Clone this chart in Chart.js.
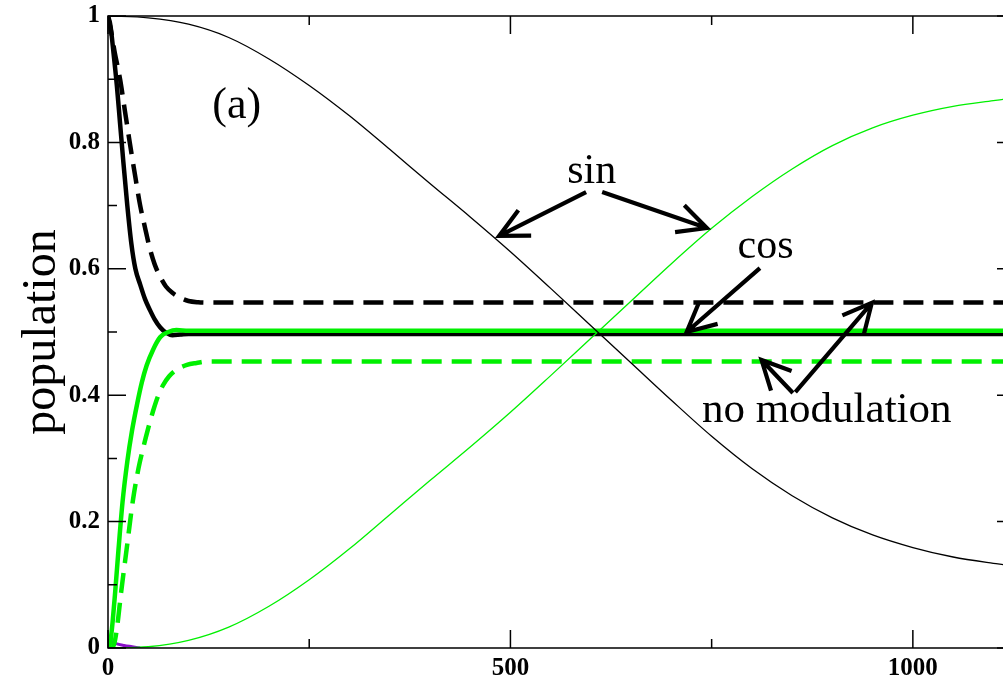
<!DOCTYPE html>
<html>
<head>
<meta charset="utf-8">
<title>population</title>
<script src="https://cdn.jsdelivr.net/npm/chart.js@4.4.1/dist/chart.umd.min.js"></script>
<style>
  html, body { margin: 0; padding: 0; background: #fff; }
  #chart { display: block; }
</style>
</head>
<body>
<canvas id="chart" width="1003" height="680"></canvas>
<script>
// time axis samples for the slow (sin modulated) populations
const tSin = [0, 50, 100, 150, 200, 250, 300, 350, 400, 450, 500, 550, 600, 650, 700, 750, 800, 850, 900, 950, 1000, 1050, 1100, 1112];
const sinUpper = [1.0, 0.997, 0.987, 0.966, 0.932, 0.89, 0.842, 0.789, 0.735, 0.682, 0.627, 0.569, 0.51, 0.451, 0.392, 0.335, 0.284, 0.241, 0.206, 0.179, 0.159, 0.144, 0.134, 0.132];
const sinLower = [0.0, 0.002, 0.012, 0.033, 0.066, 0.108, 0.157, 0.211, 0.265, 0.318, 0.373, 0.431, 0.49, 0.549, 0.608, 0.664, 0.714, 0.758, 0.795, 0.823, 0.843, 0.857, 0.866, 0.868];

// cos modulated populations (fast relaxation to 1/2)
const tCosUpper = [0, 3, 7, 11, 15, 19, 24, 29, 34, 40, 46, 52, 58, 65, 72, 80, 90, 100, 1112];
const cosUpper = [1.0, 0.985, 0.94, 0.89, 0.83, 0.77, 0.7, 0.64, 0.6, 0.575, 0.552, 0.535, 0.52, 0.507, 0.499, 0.495, 0.496, 0.497, 0.497];
const tCosLower = [0, 3, 6, 9, 13, 18, 24, 30, 36, 42, 48, 56, 65, 75, 85, 100, 1112];
const cosLower = [0.0, 0.01, 0.045, 0.09, 0.155, 0.23, 0.295, 0.345, 0.385, 0.42, 0.447, 0.472, 0.492, 0.5, 0.503, 0.502, 0.502];

// no modulation
const tFreeUpper = [0, 4, 8, 15, 21, 27, 34, 40, 46, 52, 58, 65, 72, 80, 90, 100, 112, 125, 1112];
const freeUpper = [1.0, 0.975, 0.945, 0.9, 0.85, 0.8, 0.745, 0.7, 0.665, 0.632, 0.607, 0.587, 0.572, 0.562, 0.554, 0.549, 0.547, 0.5465, 0.5465];
const tFreeLower = [0, 4, 8, 12, 16, 23, 31, 38, 44, 50, 56, 62, 68, 76, 86, 98, 110, 125, 1112];
const freeLower = [0.0, 0.0, 0.008, 0.04, 0.085, 0.155, 0.234, 0.285, 0.318, 0.348, 0.375, 0.398, 0.415, 0.43, 0.441, 0.448, 0.451, 0.4535, 0.4535];

// small leftover population near t = 0
const tRest = [0, 1, 5, 10, 20, 30, 40];
const restPop = [0.0, 0.012, 0.01, 0.007, 0.004, 0.002, 0.0];

const xMax = 1112;
const xMajor = [0, 500, 1000];
const xMinor = [250, 750];
const yMajor = [0, 0.2, 0.4, 0.6, 0.8, 1];
const yMinor = [0.1, 0.3, 0.5, 0.7, 0.9];

const GREEN = "#00f000";
const SERIF = "'Liberation Serif', 'Times New Roman', serif";

function pts(xs, ys) {
  return xs.map((x, i) => ({ x, y: ys[i] }));
}

function line(data, color, width, dash) {
  return {
    data,
    borderColor: color,
    borderWidth: width,
    borderDash: dash || [],
    pointRadius: 0,
    fill: false,
    cubicInterpolationMode: "monotone",
  };
}

// dataset 0 ends up on top
const datasets = [
  line(pts(tSin, sinUpper), "#000", 1.3),
  line(pts(tSin, sinLower), GREEN, 1.3),
  line(pts(tCosLower, cosLower), GREEN, 4.5),
  line(pts(tCosUpper, cosUpper), "#000", 4.5),
  line(pts(tFreeLower, freeLower), GREEN, 4.5, [20, 10]),
  line(pts(tFreeUpper, freeUpper), "#000", 4.5, [20, 10]),
  line(pts(tRest, restPop), "#8a10c8", 3),
];

// annotation labels and arrows, in data units
const notes = [
  { text: "(a)", x: 160, y: 0.839, size: 44 },
  { text: "sin", x: 601, y: 0.736, size: 42 },
  { text: "cos", x: 817, y: 0.617, size: 42 },
  { text: "no modulation", x: 893, y: 0.358, size: 43 },
];
const arrows = [
  { from: [594, 0.7215], to: [486, 0.652] },
  { from: [614, 0.7215], to: [744, 0.6646] },
  { from: [810, 0.601], to: [719, 0.5] },
  { from: [851, 0.4035], to: [812, 0.4557] },
  { from: [854, 0.405], to: [949, 0.546] },
];

function drawArrow(ctx, x0, y0, x1, y1) {
  const ang = Math.atan2(y1 - y0, x1 - x0);
  const len = 32;
  const spread = 0.46;
  ctx.beginPath();
  ctx.moveTo(x0, y0);
  ctx.lineTo(x1, y1);
  ctx.moveTo(x1 - len * Math.cos(ang - spread), y1 - len * Math.sin(ang - spread));
  ctx.lineTo(x1, y1);
  ctx.lineTo(x1 - len * Math.cos(ang + spread), y1 - len * Math.sin(ang + spread));
  ctx.stroke();
}

const framePlugin = {
  id: "frame",
  afterDatasetsDraw(chart) {
    const { ctx, chartArea: a, scales } = chart;
    const xs = scales.x;
    const ys = scales.y;
    const edge = a.right + 12; // right axis sits just past the canvas
    ctx.save();
    ctx.strokeStyle = "#000";
    ctx.lineWidth = 1.5;

    ctx.beginPath();
    ctx.moveTo(edge, a.top);
    ctx.lineTo(a.left, a.top);
    ctx.lineTo(a.left, a.bottom);
    ctx.lineTo(edge, a.bottom);
    ctx.stroke();

    // inward ticks
    ctx.beginPath();
    const tickX = (v, len) => {
      const p = xs.getPixelForValue(v);
      ctx.moveTo(p, a.bottom); ctx.lineTo(p, a.bottom - len);
      ctx.moveTo(p, a.top); ctx.lineTo(p, a.top + len);
    };
    const tickY = (v, len) => {
      const p = ys.getPixelForValue(v);
      ctx.moveTo(a.left, p); ctx.lineTo(a.left + len, p);
      ctx.moveTo(edge, p); ctx.lineTo(edge - len, p);
    };
    xMajor.forEach((v) => tickX(v, 18));
    xMinor.forEach((v) => tickX(v, 9));
    yMajor.forEach((v) => tickY(v, 18));
    yMinor.forEach((v) => tickY(v, 9));
    ctx.stroke();

    ctx.fillStyle = "#000";
    ctx.textAlign = "center";
    ctx.textBaseline = "alphabetic";
    notes.forEach((n) => {
      ctx.font = `${n.size}px ${SERIF}`;
      ctx.fillText(n.text, xs.getPixelForValue(n.x), ys.getPixelForValue(n.y));
    });

    ctx.lineWidth = 4.2;
    ctx.lineCap = "butt";
    ctx.lineJoin = "miter";
    arrows.forEach((ar) => {
      drawArrow(
        ctx,
        xs.getPixelForValue(ar.from[0]), ys.getPixelForValue(ar.from[1]),
        xs.getPixelForValue(ar.to[0]), ys.getPixelForValue(ar.to[1])
      );
    });
    ctx.restore();
  },
};

new Chart(document.getElementById("chart"), {
  type: "line",
  data: { datasets },
  options: {
    responsive: false,
    animation: false,
    layout: { padding: { top: 16, right: 0, left: 0, bottom: 0 } },
    plugins: { legend: { display: false }, tooltip: { enabled: false } },
    scales: {
      x: {
        type: "linear",
        min: 0,
        max: xMax,
        grid: { display: false, drawTicks: false },
        border: { display: false },
        afterBuildTicks(scale) { scale.ticks = xMajor.map((v) => ({ value: v })); },
        ticks: {
          autoSkip: false,
          maxRotation: 0,
          padding: 6,
          color: "#000",
          font: { family: SERIF, size: 25, weight: "bold" },
          callback: (v) => String(v),
        },
        afterFit(scale) {
          scale.height = 32;
          scale.paddingLeft = 0;
          scale.paddingRight = 0;
        },
      },
      y: {
        type: "linear",
        min: 0,
        max: 1,
        grid: { display: false, drawTicks: false },
        border: { display: false },
        afterBuildTicks(scale) { scale.ticks = yMajor.map((v) => ({ value: v })); },
        ticks: {
          autoSkip: false,
          padding: 8,
          color: "#000",
          font: { family: SERIF, size: 25, weight: "bold" },
          callback: (v) => String(v),
        },
        title: {
          display: true,
          text: "population",
          color: "#000",
          padding: { top: 14, bottom: 0 },
          font: { family: SERIF, size: 48 },
        },
        afterFit(scale) {
          scale.width = 108;
          scale.paddingTop = 0;
          scale.paddingBottom = 0;
        },
      },
    },
  },
  plugins: [framePlugin],
});
</script>
</body>
</html>
